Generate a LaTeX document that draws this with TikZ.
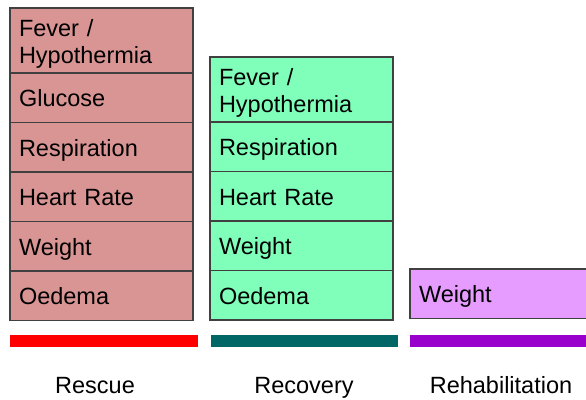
\documentclass[tikz,border=0pt]{standalone}
\usepackage{fontspec}
\setmainfont{Liberation Sans}
\usetikzlibrary{positioning}
\definecolor{rescuerose}{RGB}{217,149,148}
\definecolor{recoverymint}{RGB}{127,255,185}
\definecolor{rehablilac}{RGB}{230,155,255}
\definecolor{rescuered}{RGB}{255,0,0}
\definecolor{recoveryteal}{RGB}{0,102,102}
\definecolor{rehabpurple}{RGB}{153,0,204}
\definecolor{celledge}{RGB}{64,64,64}
\tikzset{
  basecell/.style={draw=celledge, line width=1.5pt, rectangle, anchor=north west,
    outer sep=0pt, inner xsep=9pt, inner ysep=0pt, text width=165pt,
    align=left, font=\fontsize{23.5}{26.5}\selectfont},
  cell/.style={basecell, minimum height=49.5pt, text height=18pt, text depth=0.5pt},
  tallcell/.style={basecell, minimum height=65pt, text height=17pt, text depth=25pt},
  phase/.style={anchor=base, font=\fontsize{23.5}{26.5}\selectfont}
}
\begin{document}
\begin{tikzpicture}[x=1pt, y=-1pt]
    \path[use as bounding box] (0,0) rectangle (586,399);
    \clip (0,0) rectangle (586,399);
    % rescue column
    \node[tallcell, fill=rescuerose] (rescFever) at (10,8) {Fever /\\Hypothermia};
    \node[cell, fill=rescuerose, below=0pt of rescFever] (rescGlucose) {Glucose};
    \node[cell, fill=rescuerose, below=0pt of rescGlucose] (rescResp) {Respiration};
    \node[cell, fill=rescuerose, below=0pt of rescResp] (rescHeart) {Heart Rate};
    \node[cell, fill=rescuerose, below=0pt of rescHeart] (rescWeight) {Weight};
    \node[cell, fill=rescuerose, below=0pt of rescWeight] (rescOedema) {Oedema};
    % recovery column
    \node[tallcell, fill=recoverymint] (recFever) at (210,57) {Fever /\\Hypothermia};
    \node[cell, fill=recoverymint, below=0pt of recFever] (recResp) {Respiration};
    \node[cell, fill=recoverymint, below=0pt of recResp] (recHeart) {Heart Rate};
    \node[cell, fill=recoverymint, below=0pt of recHeart] (recWeight) {Weight};
    \node[cell, fill=recoverymint, below=0pt of recWeight] (recOedema) {Oedema};
    % rehabilitation column
    \node[cell, fill=rehablilac] (rehabWeight) at (410,269) {Weight};
    % phase bars
    \fill[rescuered] (10,335) rectangle (198,347);
    \fill[recoveryteal] (211,335) rectangle (398,347);
    \fill[rehabpurple] (410,335) rectangle (600,347);
    \node[phase] (rescueLabel) at (95,393) {Rescue};
    \node[phase] (recoveryLabel) at (304,393) {Recovery};
    \node[phase] (rehabLabel) at (501,393) {Rehabilitation};
  \end{tikzpicture}
\end{document}
